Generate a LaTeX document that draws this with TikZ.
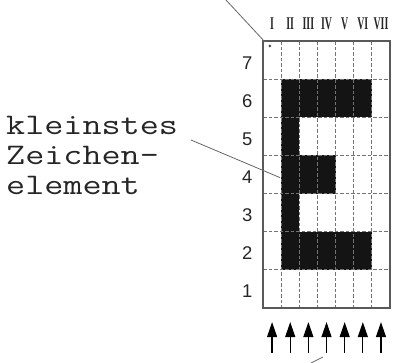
\documentclass[tikz,border=0pt]{standalone}
\usepackage{fontspec}
\usetikzlibrary{arrows.meta}
\newfontfamily\lab{Liberation Sans}
\newfontfamily\rom{Liberation Serif}
\begin{document}
\begin{tikzpicture}[x=1bp,y=-1bp,
  gridline/.style={draw=black!55, line width=1bp, dash pattern=on 3.5bp off 2bp},
  frame/.style={draw=black!65, line width=1.4bp},
  cell/.style={fill=black!92},
  rowlab/.style={font=\lab\fontsize{18.5}{18.5}\selectfont, text=black!85, inner sep=0},
  romlab/.style={font=\rom\bfseries\fontsize{18}{18}\selectfont, text=black!85, inner sep=0},
  wordlab/.style={font=\ttfamily\fontsize{30}{30}\selectfont\addfontfeatures{FakeBold=2.5}, text=black!85, inner sep=0, anchor=base west, text height=21bp, text depth=0bp},
  leader/.style={draw=black!60, line width=0.8bp},
  uparrow/.style={draw=black, line width=1.2bp, -{Triangle[length=15bp,width=10bp]}}
]
\useasboundingbox (0,0) rectangle (393,363);
% text label
\node[wordlab] (w1) at (6,134) {\scalebox{1.24}[1]{kleinstes}};
\node[wordlab] (w2) at (6,164) {\scalebox{1.24}[1]{Zeichen-}};
\node[wordlab] (w3) at (6,194) {\scalebox{1.24}[1]{element}};
\begin{scope}[shift={(263bp,-41bp)}, x=18.15bp, y=-38.14bp]
  % filled cells
  \fill[cell] (1,1) rectangle (2,6);
  \fill[cell] (1,1) rectangle (6,2);
  \fill[cell] (1,3) rectangle (4,4);
  \fill[cell] (1,5) rectangle (6,6);
  % inner grid lines
  \foreach \c in {1,...,6} \draw[gridline] (\c,0) -- (\c,7);
  \foreach \r in {1,...,6} \draw[gridline] (0,\r) -- (7,\r);
  \draw[frame] (0,0) rectangle (7,7);
  % row labels
  \foreach \r/\n in {0/7,1/6,2/5,3/4,4/3,5/2,6/1}
    \node[rowlab] (row\n) at (-0.87,\r+0.57) {\n};
  % column labels
  \foreach \c/\t in {0/I,1/II,2/III,3/IV,4/V,5/VI,6/VII}
    \node[romlab] (col\c) at (\c+0.5,-0.45) {\scalebox{0.55}[1]{\t}};
  % arrows
  \foreach \c in {0,...,6}{
    \coordinate (as\c) at (\c+0.5,8.18);
    \coordinate (ae\c) at (\c+0.5,7.37);
    \draw[uparrow] (as\c) -- (ae\c);
  }
  \coordinate (corner) at (0.38,0.13);
  \coordinate (cell4) at (0.93,3.58);
\end{scope}
% leaders
\coordinate (tl) at (226,0);
\coordinate (tle) at (265,42);
\draw[leader] (tl) -- (tle);
\fill[black!70] (corner) circle (1.5);
\coordinate (wp) at (191,140);
\draw[leader] (wp) -- (cell4);
\coordinate (bl1) at (311,363);
\coordinate (bl2) at (323,357);
\draw[leader] (bl1) -- (bl2);
\end{tikzpicture}
\end{document}
